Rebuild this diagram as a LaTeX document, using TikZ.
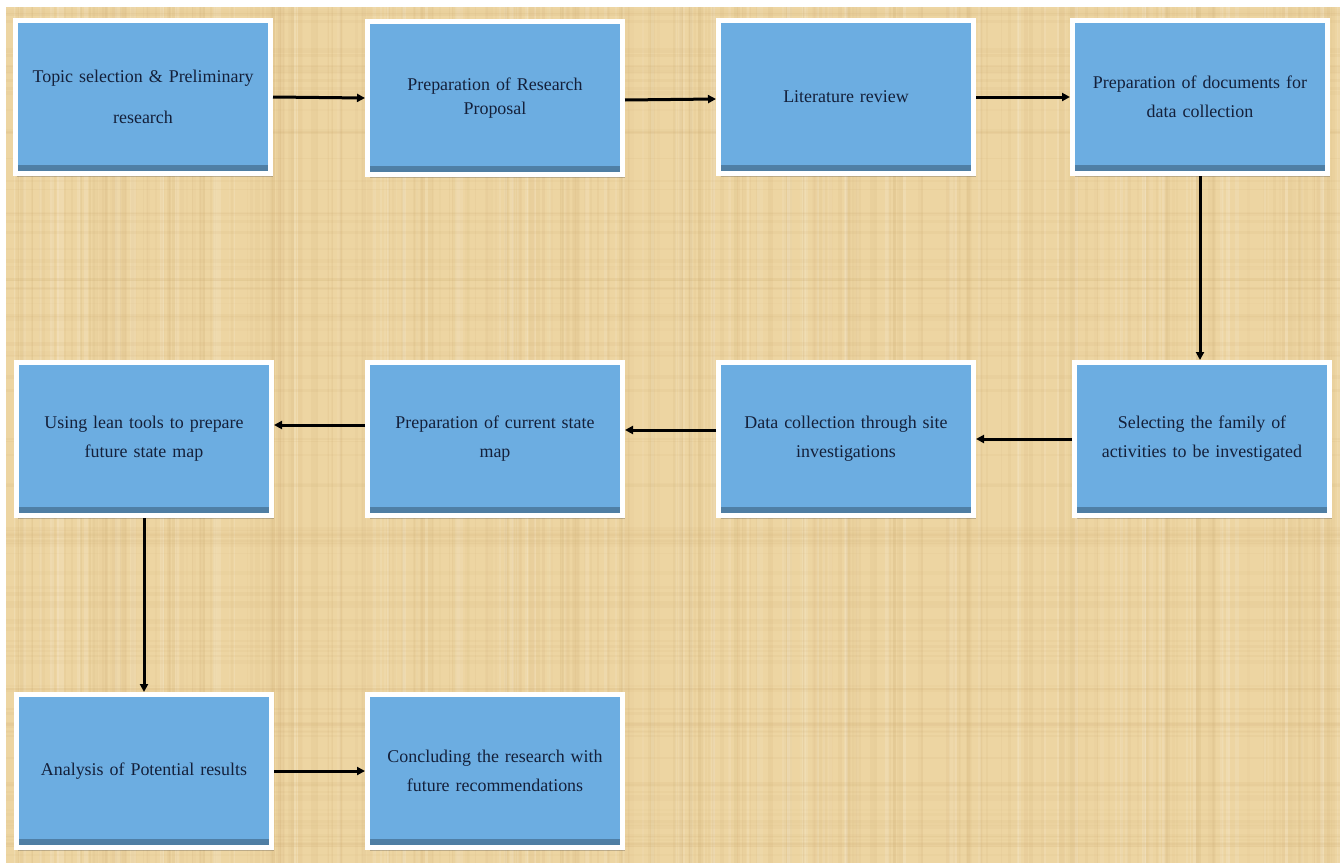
\documentclass[tikz,border=0pt]{standalone}
\usepackage{fontspec}
\setmainfont[WordSpace=0.8]{Liberation Serif}
\usetikzlibrary{arrows.meta,shadows}
\definecolor{parch}{HTML}{EDD5A2}
\definecolor{parchdark}{HTML}{C9A56A}
\definecolor{boxblue}{HTML}{6CADE1}
\definecolor{inkblue}{HTML}{14203A}
\tikzset{
  stage/.style={draw=white, line width=5bp, fill=boxblue,
    minimum width=255bp, minimum height=153bp, inner sep=0pt,
    text width=240bp, align=center, text=inkblue,
    font=\fontsize{18}{29}\selectfont,
    drop shadow={shadow xshift=2bp, shadow yshift=-3bp, opacity=0.3, fill=black!70},
    path picture={\shade[top color=boxblue, bottom color=boxblue!72!black]
      ([yshift=8bp]path picture bounding box.south west) rectangle
      (path picture bounding box.south east);}},
  flow/.style={line width=3bp, draw=black, -{Triangle[length=8bp,width=8bp]}}
}
\begin{document}
\begin{tikzpicture}[x=1bp,y=-1bp]
  \useasboundingbox (0,0) rectangle (1344,863);
  % parchment background
  \fill[white] (0,0) rectangle (1344,863);
  \fill[parch] (6,7) rectangle (1340,863);
  \begin{scope}
    \clip (6,7) rectangle (1340,863);
    \pgfmathsetseed{42}
    \foreach \i in {1,...,260}{
      \pgfmathsetmacro{\xx}{6+rnd*1334}
      \pgfmathsetmacro{\ww}{1+rnd*4}
      \pgfmathsetmacro{\op}{0.04+rnd*0.08}
      \fill[parchdark, opacity=\op] (\xx,7) rectangle ++(\ww,856);
    }
    \foreach \i in {1,...,120}{
      \pgfmathsetmacro{\xx}{6+rnd*1334}
      \pgfmathsetmacro{\ww}{1+rnd*3}
      \pgfmathsetmacro{\op}{0.05+rnd*0.10}
      \fill[white, opacity=\op] (\xx,7) rectangle ++(\ww,856);
    }
    \foreach \i in {1,...,110}{
      \pgfmathsetmacro{\yy}{7+rnd*856}
      \pgfmathsetmacro{\hh}{1+rnd*3}
      \pgfmathsetmacro{\op}{0.04+rnd*0.07}
      \fill[parchdark, opacity=\op] (6,\yy) rectangle ++(1334,\hh);
    }
  \end{scope}

  % stages
  \node[stage] (s1)  at (143,97)  {Topic selection \& Preliminary\\[12bp]research};
  \node[stage] (s2)  at (495,98)  {Preparation of Research\\[-5bp]Proposal};
  \node[stage] (s3)  at (846,97)  {Literature review};
  \node[stage] (s4)  at (1200,97) {Preparation of documents for\\data collection};
  \node[stage] (s8)  at (1202,439) {Selecting the family of\\activities to be investigated};
  \node[stage] (s7)  at (846,439) {Data collection through site\\investigations};
  \node[stage] (s6)  at (495,439) {Preparation of current state\\map};
  \node[stage] (s5)  at (144,439) {Using lean tools to prepare\\future state map};
  \node[stage] (s9)  at (144,771) {Analysis of Potential results};
  \node[stage] (s10) at (495,771) {Concluding the research with\\future recommendations};

  % flow connectors
  \draw[flow] (s1.east) -- (s2.west);
  \draw[flow] ([yshift=-2bp]s2.east) -- ([yshift=-2bp]s3.west);
  \draw[flow] (s3.east) -- (s4.west);
  \draw[flow] (s4.south) -- (s4.south |- s8.north);
  \draw[flow] (s8.west) -- (s7.east);
  \draw[flow] ([yshift=9bp]s7.west) -- ([yshift=9bp]s6.east);
  \draw[flow] ([yshift=14bp]s6.west) -- ([yshift=14bp]s5.east);
  \draw[flow] (s5.south) -- (s9.north);
  \draw[flow] (s9.east) -- (s10.west);
\end{tikzpicture}
\end{document}
